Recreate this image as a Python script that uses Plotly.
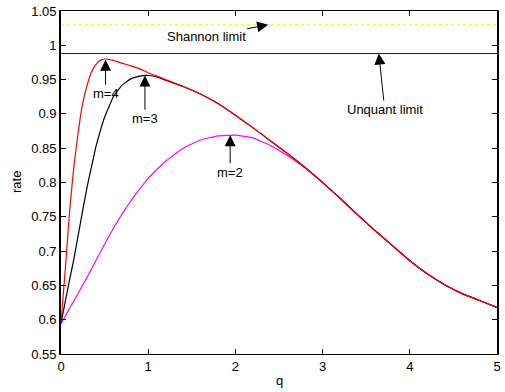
import plotly.graph_objects as go

q = [0, 0.05, 0.1, 0.15, 0.2, 0.25, 0.3, 0.35, 0.4, 0.45, 0.5, 0.6, 0.7, 0.8, 0.9,
     1.0, 1.1, 1.2, 1.4, 1.6, 1.8, 2.0, 2.2, 2.4, 2.6, 2.8, 3.0, 3.2, 3.4, 3.6,
     3.8, 4.0, 4.2, 4.4, 4.6, 4.8, 5.0]

rate_m4 = [0.595, 0.675, 0.760, 0.826, 0.876, 0.916, 0.942, 0.961, 0.972, 0.978,
           0.980, 0.978, 0.974, 0.970, 0.966, 0.960, 0.955, 0.950, 0.940, 0.929,
           0.915, 0.898, 0.880, 0.861, 0.842, 0.822, 0.800, 0.777, 0.753, 0.730,
           0.708, 0.686, 0.667, 0.651, 0.638, 0.628, 0.618]

rate_m3 = [0.595, 0.627, 0.659, 0.690, 0.725, 0.760, 0.794, 0.823, 0.852, 0.875,
           0.895, 0.925, 0.942, 0.951, 0.955, 0.956, 0.954, 0.949, 0.940, 0.929,
           0.915, 0.898, 0.880, 0.861, 0.842, 0.822, 0.800, 0.777, 0.753, 0.730,
           0.708, 0.686, 0.667, 0.651, 0.638, 0.628, 0.618]

rate_m2 = [0.594, 0.605, 0.617, 0.628, 0.639, 0.651, 0.662, 0.674, 0.686, 0.698,
           0.710, 0.733, 0.754, 0.773, 0.790, 0.806, 0.819, 0.831, 0.850, 0.862,
           0.868, 0.869, 0.865, 0.854, 0.839, 0.821, 0.800, 0.777, 0.753, 0.730,
           0.708, 0.686, 0.667, 0.651, 0.638, 0.628, 0.618]

shannon_limit = 1.030
unquant_limit = 0.988
q_range = [0, 5]

x_ticks = [0, 1, 2, 3, 4, 5]
y_ticks = [0.55, 0.6, 0.65, 0.7, 0.75, 0.8, 0.85, 0.9, 0.95, 1.0, 1.05]
y_ticktext = ["0.55", "0.6", "0.65", "0.7", "0.75", "0.8", "0.85", "0.9", "0.95", "1", "1.05"]

# annotation: text, arrow head (q, rate), text offset in px
ann_text = ["Shannon limit", "Unquant limit", "m=4", "m=3", "m=2"]
ann_q = [2.375, 3.644, 0.511, 0.9625, 1.94]
ann_rate = [1.030, 0.988, 0.979, 0.9558, 0.8688]
ann_dx = [-62, 6, 0, 0, 0]
ann_dy = [12, 56, 34, 43, 37]

FONT = "Liberation Sans, Arial, Helvetica, sans-serif"

fig = go.Figure()
fig.add_trace(go.Scatter(x=q_range, y=[shannon_limit] * 2, mode="lines",
                         line=dict(color="#f5f500", width=1, dash="dot")))
fig.add_trace(go.Scatter(x=q_range, y=[unquant_limit] * 2, mode="lines",
                         line=dict(color="#0000ff", width=1)))
line_kw = dict(width=1.2, shape="spline", smoothing=0.3)
fig.add_trace(go.Scatter(x=q, y=rate_m2, mode="lines", line=dict(color="#ff00ff", **line_kw)))
fig.add_trace(go.Scatter(x=q, y=rate_m3, mode="lines", line=dict(color="#000000", **line_kw)))
fig.add_trace(go.Scatter(x=q, y=rate_m4, mode="lines", line=dict(color="#ff0000", **line_kw)))

for t, xq, yr, dx, dy in zip(ann_text, ann_q, ann_rate, ann_dx, ann_dy):
    fig.add_annotation(x=xq, y=yr, text=t, showarrow=True, ax=dx, ay=dy,
                       arrowhead=2, arrowsize=2.2, arrowwidth=1, arrowcolor="black",
                       font=dict(family=FONT, size=13, color="black"))

fig.add_annotation(text="q", xref="paper", yref="paper", x=0.5, y=0, yshift=-36,
                   showarrow=False, font=dict(family=FONT, size=13, color="black"))
fig.add_annotation(text="rate", xref="paper", yref="paper", x=0, y=0.5, xshift=-54,
                   textangle=-90, showarrow=False, font=dict(family=FONT, size=13, color="black"))

axis_common = dict(showgrid=False, zeroline=False, showline=True, linecolor="black",
                   mirror="ticks", ticks="inside", ticklen=5,
                   tickcolor="black", tickwidth=1,
                   tickfont=dict(family=FONT, size=13, color="black"))
fig.update_xaxes(range=q_range, tickvals=x_ticks, linewidth=1, **axis_common)
fig.update_yaxes(range=[0.55, 1.05], tickvals=y_ticks, ticktext=y_ticktext,
                 linewidth=1.8, **axis_common)

fig.update_layout(width=505, height=392, margin=dict(l=61, r=4, t=9, b=38),
                  paper_bgcolor="white", plot_bgcolor="white", showlegend=False)

fig.write_html("out.html")
